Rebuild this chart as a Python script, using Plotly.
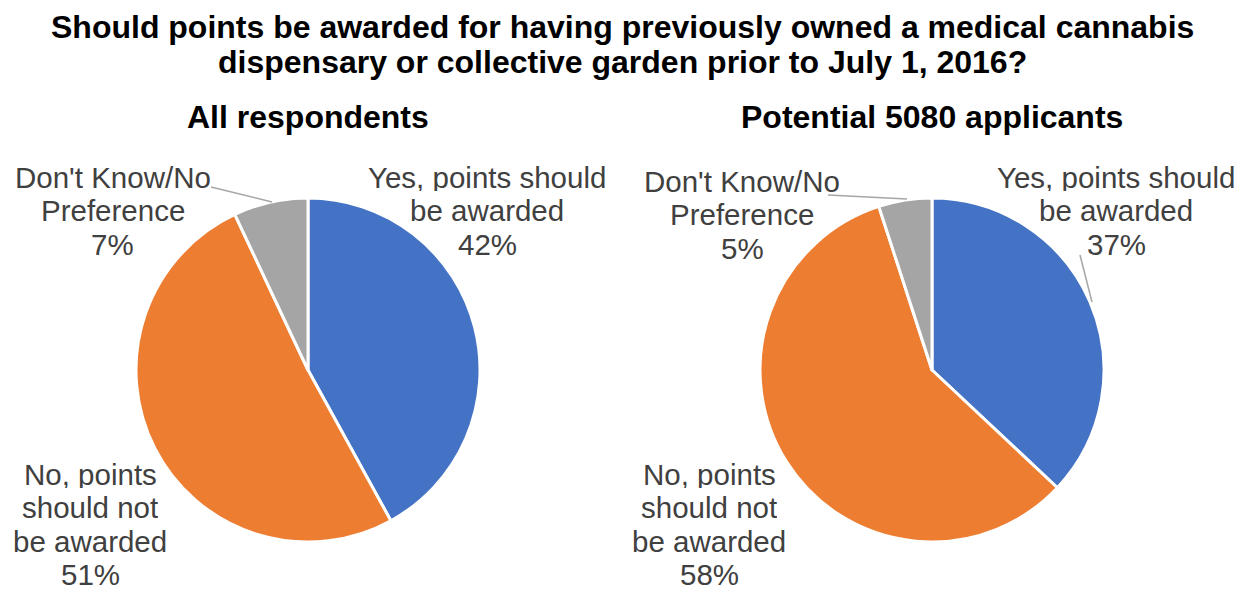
import plotly.graph_objects as go

W, H = 1245, 590

categories = [["Yes, points should", "be awarded"],
              ["No, points", "should not", "be awarded"],
              ["Don't Know/No", "Preference"]]
all_respondents = [42, 51, 7]
applicants_5080 = [37, 58, 5]
colors = ["#4472C4", "#ED7D31", "#A5A5A5"]

title_lines = ["Should points be awarded for having previously owned a medical cannabis",
               "dispensary or collective garden prior to July 1, 2016?"]
subtitles = ["All respondents", "Potential 5080 applicants"]


def px(x, y):
    return x / W, 1 - y / H


fig = go.Figure()

# pie centres/radius in pixels
pies = [(308, 370, 172, all_respondents), (932, 370, 172, applicants_5080)]
for cx, cy, r, vals in pies:
    x0, y1 = px(cx - r, cy - r)
    x1, y0 = px(cx + r, cy + r)
    fig.add_trace(go.Pie(
        labels=[" ".join(c) for c in categories],
        values=vals,
        sort=False,
        direction="clockwise",
        rotation=0,
        textinfo="none",
        hoverinfo="label+percent",
        marker=dict(colors=colors, line=dict(color="white", width=3)),
        domain=dict(x=[x0, x1], y=[y0, y1]),
        showlegend=False,
    ))

FONT = "Liberation Sans, Arial, sans-serif"
label_font = dict(family=FONT, size=29.5, color="#404040")
title_font = dict(family=FONT, size=32, color="black")

annotations = []


def add_text(x, y, text, font, box_h=None):
    xx, yy = px(x, y)
    ann = dict(x=xx, y=yy, xref="paper", yref="paper",
               xanchor="center", yanchor="middle", valign="middle",
               text=text, showarrow=False, font=font)
    if box_h:
        ann["height"] = box_h
    annotations.append(ann)


# data labels: (pie index, category index, centre x, centre y of first line)
LINE = 33.3
label_spots = [
    (0, 0, 487, 177), (0, 1, 90, 474), (0, 2, 113, 177),
    (1, 0, 1116, 177), (1, 1, 709, 474), (1, 2, 742, 181),
]
series = [all_respondents, applicants_5080]
for si, ci, x, y in label_spots:
    lines = categories[ci] + [f"{series[si][ci]}%"]
    for k, ln in enumerate(lines):
        add_text(x, y + k * LINE, ln, label_font, box_h=28)

# chart titles
for txt, x in zip(subtitles, [308, 932]):
    add_text(x, 117, f"<b>{txt}</b>", title_font)

for k, ln in enumerate(title_lines):
    add_text(622, 27 + k * 35, f"<b>{ln}</b>", title_font)

# leader lines
leaders = [((211, 187), (272, 202)), ((828, 195), (907, 199)), ((1080, 255), (1092, 302))]
shapes = []
for (a, b) in leaders:
    ax, ay = px(*a)
    bx, by = px(*b)
    shapes.append(dict(type="line", xref="paper", yref="paper",
                       x0=ax, y0=ay, x1=bx, y1=by,
                       line=dict(color="#A6A6A6", width=1.5)))

fig.update_layout(
    width=W, height=H,
    margin=dict(l=0, r=0, t=0, b=0),
    paper_bgcolor="white", plot_bgcolor="white",
    annotations=annotations, shapes=shapes,
)

fig.write_html("out.html")
